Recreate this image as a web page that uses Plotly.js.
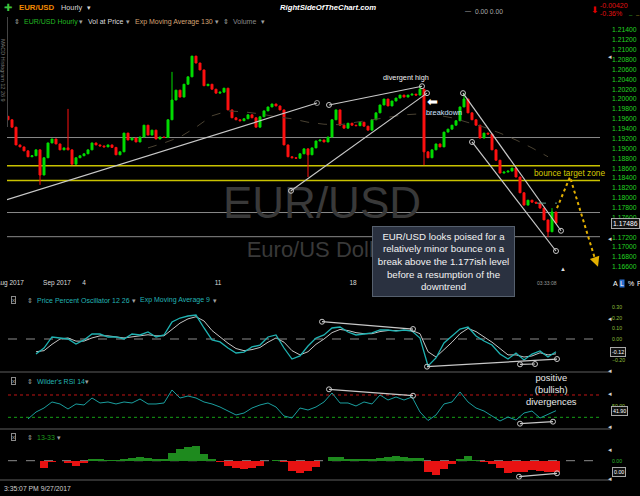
<!DOCTYPE html>
<html><head><meta charset="utf-8">
<script src="https://cdn.plot.ly/plotly-3.0.1.min.js"></script>
<style>html,body{margin:0;padding:0;background:#000;}#chart{width:640px;height:496px;}</style>
</head><body><div id="chart"></div>
<script>
// ---------- DATA ----------
const closes = [1.1958,1.1943,1.1907,1.1903,1.1895,1.1883,1.1885,1.1897,1.1846,1.1881,
 1.1911,1.1919,1.1909,1.1897,1.1901,1.1897,1.1868,1.1881,1.1885,1.1889,
 1.1897,1.1911,1.1907,1.1905,1.1903,1.1907,1.1902,1.1887,1.1893,1.1931,
 1.1917,1.1921,1.1913,1.1923,1.1947,1.1927,1.1937,1.1919,1.1923,1.1922,
 1.1958,1.1998,1.2018,1.2004,1.2030,1.2045,1.2087,1.2073,1.2059,1.2027,
 1.2030,1.2020,1.2012,1.2014,1.2022,1.1978,1.1962,1.1958,1.1956,1.1960,
 1.1968,1.1962,1.1943,1.1964,1.1976,1.1984,1.1990,1.1986,1.1978,1.1907,
 1.1883,1.1881,1.1880,1.1889,1.1899,1.1887,1.1901,1.1915,1.1917,1.1913,
 1.1923,1.1958,1.1978,1.1947,1.1941,1.1951,1.1947,1.1946,1.1953,1.1945,
 1.1937,1.1958,1.1972,1.1988,1.2000,1.1986,1.1996,1.2002,1.2008,1.2004,
 1.2008,1.2010,1.2008,1.2020,1.1893,1.1881,1.1897,1.1909,1.1903,1.1933,
 1.1939,1.1947,1.1956,1.1984,1.2000,1.1972,1.1958,1.1947,1.1921,1.1931,
 1.1929,1.1897,1.1876,1.1850,1.1852,1.1854,1.1860,1.1842,1.1810,1.1785,
 1.1795,1.1791,1.1789,1.1779,1.1755,1.1731,1.1771,1.17486];
const firstOpen = 1.1965;
const wickHighIdx = [15, 41, 103, 114, 136];
const wickHighVal = [1.1980, 1.2055, 1.2027, 1.2012, 1.1779];
const wickLowIdx = [8, 75, 104, 135];
const wickLowVal = [1.1826, 1.1842, 1.1866, 1.1720];

const emaStart = 35, emaStep = 4;
const ema130 = [1.1901,1.1911,1.1923,1.1943,1.1966,1.1976,1.1974,1.1970,1.1964,1.1960,1.1953,1.1949,1.1948,
 1.1953,1.1958,1.1962,1.1968,1.1970,1.1968,1.1962,1.1953,1.1943,1.1931,1.1917,1.1901,1.1883];

const grayLevels = [1.1922, 1.1770, 1.1721];
const yellowLevels = [1.1865, 1.1835];

// trend lines [idx0, val0, idx1, val1]
const priceTrends = [[-0.25,1.1796,77.25,1.1992],[80.25,1.1988,103.5,1.2026],[70.75,1.1814,104.75,1.2012],
 [113.75,1.2012,138.25,1.1733],[116,1.1913,137,1.1692]];
const ppoTrends = [[78.5,0.163,101.25,0.094],[104.75,-0.261,137.25,-0.189],[128,-0.239,131.75,-0.236]];
const rsiTrends = [[80.25,80.2,101.25,68.7],[128,18.6,136.25,22.2]];
const histTrends = [[127.75,-16.0,137.25,-12.6]];

const bounceIdx = [137.25, 140.5, 146.6];
const bounceVal = [1.1779, 1.1842, 1.1680];
const arrowTip = [147.5, 1.1660];
const breakLevelIdx = [132.25, 137.25];
const breakLevelVal = 1.1789;

const indStart = 5, indStep = 2;
const ppo = [null,-0.142,-0.085,0.019,0.009,0.000,-0.047,-0.009,0.047,0.047,0.019,0.019,0.000,0.047,0.038,0.066,0.019,0.038,
 0.160,0.198,0.217,0.226,0.104,-0.009,-0.028,-0.085,-0.132,-0.123,-0.075,-0.057,0.019,0.038,-0.085,-0.189,-0.160,-0.066,
 0.009,0.038,0.104,0.113,0.066,0.038,0.047,0.057,0.085,0.085,0.075,0.085,0.075,0.009,-0.255,-0.179,-0.038,0.028,0.094,
 0.113,0.028,-0.019,-0.057,-0.142,-0.189,-0.132,-0.198,-0.142,-0.113,-0.170,-0.12];
const ppoSignal = [null,-0.12,-0.11,-0.05,0.00,0.01,-0.02,-0.02,0.01,0.03,0.03,0.02,0.01,0.02,0.03,0.04,0.03,0.03,0.09,0.15,
 0.19,0.21,0.17,0.08,0.02,-0.04,-0.09,-0.11,-0.10,-0.08,-0.03,0.01,-0.03,-0.11,-0.15,-0.12,-0.05,0.00,0.06,0.09,0.08,0.06,
 0.05,0.05,0.07,0.08,0.08,0.08,0.08,0.05,-0.12,-0.17,-0.10,-0.03,0.05,0.10,0.07,0.02,-0.03,-0.09,-0.15,-0.15,-0.17,-0.16,
 -0.13,-0.15,-0.14];
const rsi = [27.0,39.5,46.7,57.5,53.9,44.9,53.9,52.1,64.6,55.7,57.5,53.9,57.5,55.7,62.8,53.9,53.9,55.7,79.0,64.6,
 68.2,64.6,57.5,53.9,48.5,41.3,34.2,37.7,46.7,52.1,55.7,48.5,32.4,28.8,46.7,43.1,48.5,57.5,73.6,55.7,
 55.7,50.3,57.5,53.9,70.0,61.0,66.4,61.0,66.4,39.5,24.3,34.2,53.9,57.5,75.4,57.5,46.7,41.3,32.4,23.4,
 30.6,25.2,37.7,41.3,28.8,36.0,41.9];
const hist1333 = [null,null,-7.3,-0.8,-0.2,-1.8,-4.8,-2.0,1.9,1.4,1.1,0.6,1.5,2.6,3.4,2.9,2.0,1.6,8.1,11.5,13.4,14.4,
 6.7,1.7,-1.6,-4.8,-7.7,-8.3,-6.8,-4.8,-0.3,0.7,-1.3,-10.3,-11.9,-10.0,-6.3,0.2,4.2,4.0,2.1,1.7,1.4,2.1,3.2,4.2,4.6,
 3.5,3.0,2.4,-11.0,-13.8,-8.6,-2.8,1.7,4.4,0.9,-1.6,-3.2,-7.3,-11.8,-10.8,-10.8,-9.6,-10.3,-11.6,-11.0];

const tickIdx = [0.5, 12.25, 19, 52.5, 86.25, 120];
const tickText = ['Aug 2017','Sep 2017','4','11','18','25'];
const priceTicks = [1.166,1.168,1.170,1.172,1.176,1.178,1.180,1.182,1.184,1.186,1.188,1.190,1.192,
 1.194,1.196,1.198,1.200,1.202,1.204,1.206,1.208,1.210,1.212,1.214];
const ppoTicks = [-0.2, 0, 0.1, 0.2, 0.3];

// ---------- BUILD ----------
const FONT = '"Liberation Sans", Arial, sans-serif';
const W = 640, H = 496;
const px = x => x / W, py = y => 1 - y / H;

const N = closes.length;
const idx = closes.map((_, i) => i);
const opens = closes.map((c, i) => i === 0 ? firstOpen : closes[i - 1]);
const highs = closes.map((c, i) => Math.max(c, opens[i]));
const lows = closes.map((c, i) => Math.min(c, opens[i]));
wickHighIdx.forEach((k, j) => { highs[k] = Math.max(highs[k], wickHighVal[j]); });
wickLowIdx.forEach((k, j) => { lows[k] = Math.min(lows[k], wickLowVal[j]); });
const emaX = ema130.map((_, k) => emaStart + k * emaStep);
const indX = rsi.map((_, k) => indStart + k * indStep);

const traces = [];
traces.push({type:'scatter', mode:'text', x:[78.5], y:[1.1781], text:['EUR/USD'], xaxis:'x', yaxis:'y',
  textfont:{family:FONT, size:44, color:'#393939'}, hoverinfo:'skip', showlegend:false});
traces.push({type:'scatter', mode:'text', x:[78], y:[1.1692], text:['Euro/US Dollar'], xaxis:'x', yaxis:'y',
  textfont:{family:FONT, size:22, color:'#393939'}, hoverinfo:'skip', showlegend:false});
traces.push({type:'scatter', mode:'lines', x:emaX, y:ema130, xaxis:'x', yaxis:'y',
  line:{color:'#4a4232', width:1, dash:'dash'}, hoverinfo:'skip', showlegend:false});
traces.push({type:'candlestick', x:idx, open:opens, high:highs, low:lows, close:closes, xaxis:'x', yaxis:'y',
  increasing:{line:{color:'#00dd00', width:1}, fillcolor:'#00dd00'},
  decreasing:{line:{color:'#ff1010', width:1}, fillcolor:'#ff1010'},
  whiskerwidth:0, hoverinfo:'skip', showlegend:false});

function trendTraces(list, xa, ya, hideFirstStart) {
  list.forEach((t, k) => {
    traces.push({type:'scatter', mode:'lines+markers', x:[t[0], t[2]], y:[t[1], t[3]], xaxis:xa, yaxis:ya,
      line:{color:'#c8c8c8', width:1.2},
      marker:{symbol:'circle-open', size:(hideFirstStart && k===0) ? [0,5] : 5, color:'#c8c8c8', line:{width:1}},
      hoverinfo:'skip', showlegend:false});
  });
}
trendTraces(priceTrends, 'x', 'y', true);
traces.push({type:'scatter', mode:'lines', x:breakLevelIdx, y:[breakLevelVal, breakLevelVal], xaxis:'x', yaxis:'y',
  line:{color:'#5f9f8a', width:1, dash:'dash'}, hoverinfo:'skip', showlegend:false});
traces.push({type:'scatter', mode:'lines', x:bounceIdx, y:bounceVal, xaxis:'x', yaxis:'y',
  line:{color:'#e3b000', width:2, dash:'dot'}, hoverinfo:'skip', showlegend:false});

traces.push({type:'scatter', mode:'lines', x:indX, y:ppoSignal, xaxis:'x2', yaxis:'y2',
  line:{color:'#c4c4c4', width:1}, hoverinfo:'skip', showlegend:false});
traces.push({type:'scatter', mode:'lines', x:indX, y:ppo, xaxis:'x2', yaxis:'y2',
  line:{color:'#1fb2b2', width:1.3}, hoverinfo:'skip', showlegend:false});
trendTraces(ppoTrends, 'x2', 'y2', false);
traces.push({type:'scatter', mode:'lines', x:indX, y:rsi, xaxis:'x3', yaxis:'y3',
  line:{color:'#1a9f9f', width:1}, hoverinfo:'skip', showlegend:false});
trendTraces(rsiTrends, 'x3', 'y3', false);
traces.push({type:'bar', x:indX, y:hist1333, xaxis:'x4', yaxis:'y4',
  marker:{color:hist1333.map(v => v === null ? '#000' : (v >= 0 ? '#1e8a1e' : '#e81212')), line:{width:0}},
  hoverinfo:'skip', showlegend:false});
trendTraces(histTrends, 'x4', 'y4', false);

const xRange = [-0.25, 148];
const xDomain = [px(7), px(600)];
const baseX = {range:xRange, domain:xDomain, showgrid:false, zeroline:false, showline:false, ticks:'',
  fixedrange:true, rangeslider:{visible:false}};
const baseY = {side:'right', showgrid:false, zeroline:false, showline:false, ticks:'', fixedrange:true, ticklabelstandoff:11};

const layout = {
  width:W, height:H, autosize:false, margin:{l:0, r:0, t:0, b:0},
  paper_bgcolor:'#000', plot_bgcolor:'#000', showlegend:false, hovermode:false, bargap:0,
  font:{family:FONT, color:'#ddd'},
  xaxis:Object.assign({}, baseX, {anchor:'y', tickvals:tickIdx, ticktext:tickText, ticklabeloverflow:'allow',
    tickfont:{family:FONT, size:6.5, color:'#dcdcdc'}}),
  xaxis2:Object.assign({}, baseX, {anchor:'y2', showticklabels:false}),
  xaxis3:Object.assign({}, baseX, {anchor:'y3', showticklabels:false}),
  xaxis4:Object.assign({}, baseX, {anchor:'y4', showticklabels:false}),
  yaxis:Object.assign({}, baseY, {domain:[py(277), py(17)], range:[1.16393, 1.21663], anchor:'x',
    tickvals:priceTicks, tickformat:'.5f', tickfont:{family:FONT, size:6.8, color:'#22d422'}}),
  yaxis2:Object.assign({}, baseY, {domain:[py(372), py(291)], range:[-0.3113, 0.4528], anchor:'x2',
    tickvals:ppoTicks, tickformat:'.2f', tickfont:{family:FONT, size:5.2, color:'#8dbf3a'}}),
  yaxis3:Object.assign({}, baseY, {domain:[py(429), py(373)], range:[9.07, 109.4], anchor:'x3',
    tickvals:[50], tickformat:'.2f', tickfont:{family:FONT, size:5.2, color:'#8dbf3a'}}),
  yaxis4:Object.assign({}, baseY, {domain:[py(480), py(430)], range:[-19.3, 30.7], anchor:'x4',
    tickvals:[0], ticktext:['0.00'], tickfont:{family:FONT, size:5.2, color:'#2cb82c'}}),
  shapes:[], annotations:[]
};

grayLevels.forEach(v => layout.shapes.push({type:'line', xref:'paper', yref:'y', x0:px(7), x1:px(600), y0:v, y1:v,
  line:{color:'#8a8a8a', width:1}, layer:'below'}));
yellowLevels.forEach(v => layout.shapes.push({type:'line', xref:'paper', yref:'y', x0:px(7), x1:px(600), y0:v, y1:v,
  line:{color:'#c9c200', width:1.5}, layer:'below'}));
layout.shapes.push({type:'line', xref:'paper', yref:'y2', x0:px(8), x1:px(600), y0:0, y1:0, line:{color:'#8c8c8c', width:1, dash:'dash'}, layer:'below'});
layout.shapes.push({type:'line', xref:'paper', yref:'y3', x0:px(8), x1:px(600), y0:70, y1:70, line:{color:'#c01515', width:1, dash:'dot'}, layer:'below'});
layout.shapes.push({type:'line', xref:'paper', yref:'y3', x0:px(8), x1:px(600), y0:30, y1:30, line:{color:'#15a015', width:1, dash:'dot'}, layer:'below'});
layout.shapes.push({type:'line', xref:'paper', yref:'y4', x0:px(8), x1:px(600), y0:0, y1:0, line:{color:'#8c8c8c', width:1, dash:'dash'}, layer:'below'});
[372, 429, 480].forEach(y => layout.shapes.push({type:'line', xref:'paper', yref:'paper', x0:0, x1:px(611), y0:py(y), y1:py(y),
  line:{color:'#5e5e5e', width:1}}));
layout.shapes.push({type:'line', xref:'paper', yref:'paper', x0:px(7.5), x1:px(7.5), y0:py(17), y1:py(127), line:{color:'#444', width:1}});

function T(text, x, y, size, color, o) {
  return Object.assign({text:text, xref:'paper', yref:'paper', x:px(x), y:py(y), xanchor:'left', yanchor:'middle',
    showarrow:false, font:{family:FONT, size:size, color:color}}, o || {});
}
const A = layout.annotations;
A.push(T('✚', 2, 8, 10, '#3ec43e'));
A.push(T('<b>EUR/USD</b>', 17, 8, 7.8, '#f28a00'));
A.push(T('Hourly', 59, 8, 7.3, '#d8d8d8'));
A.push(T('▾', 85, 8, 7, '#d8d8d8'));
A.push(T('RightSideOfTheChart.com', 328, 8, 7.7, '#ffffff', {xanchor:'center',
  font:{family:FONT, size:7.7, color:'#ffffff', weight:'bold', style:'italic'}}));
A.push(T('—', 463, 11, 6, '#dddddd'));
A.push(T('0.00 0.00', 473, 11, 6.7, '#a8a8a8'));
A.push(T('⬇', 589, 10, 9, '#e00000'));
A.push(T('-0.00420', 598, 6, 7, '#e01010'));
A.push(T('-0.36%', 598, 13.5, 7, '#e01010'));
A.push(T('–', 627, 15, 6, '#30c030'));
A.push(T('–', 634, 15, 6, '#b0a020'));
A.push(T('⇕', 12, 22, 7, '#a0a0a0'));
A.push(T('EUR/USD Hourly', 22, 22, 7, '#22b822'));
A.push(T('▾', 77, 22, 7, '#a0a0a0'));
A.push(T('Vol at Price', 86, 22, 7, '#dcdcdc'));
A.push(T('▾', 124, 22, 7, '#a0a0a0'));
A.push(T('Exp Moving Average 130', 133, 22, 7, '#d4a373'));
A.push(T('▾', 213, 22, 7, '#a0a0a0'));
A.push(T('⇕', 221, 22, 7, '#a0a0a0'));
A.push(T('Volume', 231, 22, 7, '#8a8a8a'));
A.push(T('▾', 259, 22, 7, '#a0a0a0'));
A.push(T('MACD Histogram 12 26 9', 3, 70, 5.5, '#777777', {xanchor:'center', textangle:90}));
A.push(T('divergent high', 406, 77, 7.3, '#f0f0f0', {xanchor:'center'}));
A.push(T('breakdown', 444, 112, 7.4, '#cfe0ff', {xanchor:'center'}));
A.push(T('⬅', 432, 101, 13, '#ffffff', {xanchor:'center'}));
A.push(T('bounce target zone', 569, 173, 8.3, '#d8cc00', {xanchor:'center'}));
A.push(T('▲', 563, 269, 6, '#dddddd', {xanchor:'center'}));
A.push(T('03:33:08', 547, 283, 5, '#9a9a9a', {xanchor:'center'}));
A.push({text:'', xref:'x', yref:'y', x:arrowTip[0], y:arrowTip[1], axref:'x', ayref:'y',
  ax:bounceIdx[2], ay:bounceVal[2], showarrow:true, arrowcolor:'#e3b000', arrowhead:2, arrowsize:1, arrowwidth:2});
A.push(T('EUR/USD looks poised for a<br>relatively minor bounce on a<br>break above the 1.177ish level<br>before a resumption of the<br>downtrend',
  443.5, 261.5, 9.7, '#f2f2f2', {xanchor:'center', align:'center', width:141, height:69, bgcolor:'#2a3140',
  bordercolor:'#56606e', borderwidth:1, borderpad:0, valign:'middle'}));
[57, 238, 318, 370, 393, 426, 449, 478].forEach(y => A.push(T('◂', 606, y, 7, '#cfcfcf')));
A.push({text:closes[N-1].toFixed(5), xref:'paper', yref:'y', x:px(625), y:closes[N-1], xanchor:'center', yanchor:'middle',
  showarrow:false, font:{family:FONT, size:6.8, color:'#ffffff'}, bgcolor:'#111', bordercolor:'#a8a8a8', borderwidth:1, borderpad:1});
A.push({text:ppo[ppo.length-1].toFixed(2), xref:'paper', yref:'y2', x:px(618), y:ppo[ppo.length-1], xanchor:'center', yanchor:'middle',
  showarrow:false, font:{family:FONT, size:5.3, color:'#ffffff'}, bgcolor:'#111', bordercolor:'#a8a8a8', borderwidth:1, borderpad:1});
A.push({text:rsi[rsi.length-1].toFixed(2), xref:'paper', yref:'y3', x:px(619), y:rsi[rsi.length-1], xanchor:'center', yanchor:'middle',
  showarrow:false, font:{family:FONT, size:5.3, color:'#ffffff'}, bgcolor:'#111', bordercolor:'#a8a8a8', borderwidth:1, borderpad:1});
A.push({text:'0.00', xref:'paper', yref:'y4', x:px(619), y:hist1333[hist1333.length-1], xanchor:'center', yanchor:'middle',
  showarrow:false, font:{family:FONT, size:5.3, color:'#ffffff'}, bgcolor:'#111', bordercolor:'#a8a8a8', borderwidth:1, borderpad:1});
A.push(T('A', 611, 283, 7, '#ffffff'));
A.push(T('L', 619, 283, 7, '#ffffff', {bgcolor:'#2a6fd0', borderpad:0}));
A.push(T('%', 626, 283, 7, '#ffffff'));
A.push(T('F', 635, 283, 7, '#ffffff'));
function header(y, parts) {
  A.push(T('x', 11, y, 6, '#b0b0b0', {bordercolor:'#8a8a8a', borderwidth:1, borderpad:0}));
  A.push(T('⇕', 25, y, 7, '#a0a0a0'));
  parts.forEach(p => A.push(T(p[0], p[1], y, p[3] || 7, p[2])));
}
header(300, [['Price Percent Oscillator 12 26', 35, '#22b4b4'], ['▾', 130, '#a0a0a0', 7],
  ['Exp Moving Average 9', 138, '#22b4b4'], ['▾', 211, '#a0a0a0', 7]]);
header(381, [["Wilder's RSI 14", 35, '#22b4b4'], ['▾', 83, '#a0a0a0', 7]]);
header(437, [['13-33', 35, '#1c9c1c'], ['▾', 55, '#a0a0a0', 7]]);
A.push(T('positive<br>(bullish)<br>divergences', 551, 389, 9.4, '#e8e8e8', {xanchor:'center', align:'center'}));
A.push(T('3:35:07 PM 9/27/2017', 2, 488, 6.8, '#d0d0d0'));

Plotly.newPlot('chart', traces, layout, {staticPlot:true, displayModeBar:false});
</script></body></html>
